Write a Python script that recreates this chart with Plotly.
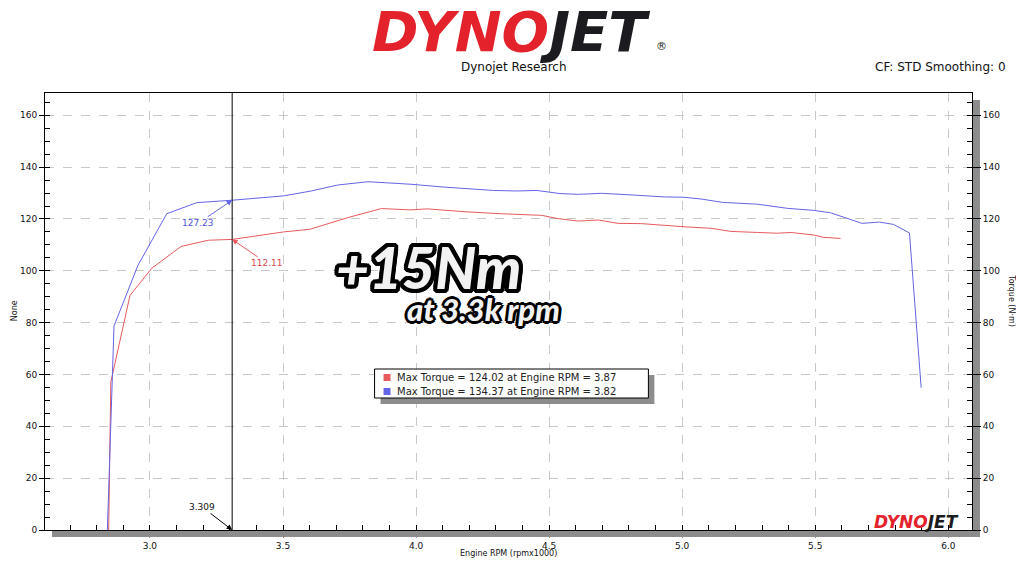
import plotly.graph_objects as go

# ---------------- data ----------------
rpm_blue = [2.840, 2.865, 2.955, 3.063, 3.176, 3.309, 3.502, 3.606, 3.706, 3.820,
            3.980, 4.105, 4.292, 4.379, 4.454, 4.541, 4.610, 4.697, 4.822, 4.934,
            5.003, 5.071, 5.152, 5.283, 5.395, 5.495, 5.557, 5.676, 5.741, 5.794,
            5.854, 5.898]
tq_blue = [0.0, 78.7, 102.1, 122.0, 126.3, 127.23, 128.9, 130.8, 133.1, 134.37,
           133.4, 132.3, 131.0, 130.8, 131.0, 129.8, 129.5, 129.9, 129.2, 128.5,
           128.4, 127.7, 126.4, 125.7, 124.1, 123.3, 122.4, 118.3, 118.8, 117.9,
           114.6, 54.9]

rpm_red = [2.845, 2.853, 2.925, 3.007, 3.117, 3.219, 3.309, 3.502, 3.600, 3.743,
           3.870, 3.980, 4.042, 4.180, 4.323, 4.472, 4.535, 4.610, 4.685, 4.759,
           4.847, 4.946, 5.021, 5.108, 5.183, 5.283, 5.358, 5.408, 5.495, 5.532,
           5.595]
tq_red = [0.0, 57.0, 90.5, 101.0, 109.4, 111.8, 112.11, 115.0, 116.0, 120.5,
          124.02, 123.5, 123.9, 122.8, 122.0, 121.4, 120.1, 119.2, 119.6, 118.3,
          118.2, 117.3, 116.9, 116.4, 115.2, 114.8, 114.5, 114.8, 113.8, 112.9,
          112.5]

cursor_rpm = 3.309
x_ticks = [3.0, 3.5, 4.0, 4.5, 5.0, 5.5, 6.0]
y_ticks = [0, 20, 40, 60, 80, 100, 120, 140, 160]

RED = "#e85a5c"
BLUE = "#6464e6"
RED_TXT = "#d84a4c"
BLUE_TXT = "#5252d6"
SHADOW = "#8c8c8c"
FONT = "DejaVu Sans"

# ---------------- layout geometry (pixels, page coords) ----------------
OFF = 8                      # page body margin of the html page
W, H = 1024 - OFF, 576 - OFF
L, R, T, B = 41, 972, 93, 530
PW, PH = R - L, B - T


def px(x):
    return (x - L) / PW


def py(y):
    return (B - y) / PH


fig = go.Figure()
fig.add_trace(go.Scatter(x=rpm_red, y=tq_red, mode="lines",
                         line=dict(color=RED, width=1), hoverinfo="skip"))
fig.add_trace(go.Scatter(x=rpm_blue, y=tq_blue, mode="lines",
                         line=dict(color=BLUE, width=1), hoverinfo="skip"))
fig.add_trace(go.Scatter(x=[None], y=[None], yaxis="y2", showlegend=False))

# cursor line
fig.add_shape(type="line", xref="x", yref="paper", x0=cursor_rpm, x1=cursor_rpm,
              y0=0, y1=1, line=dict(color="black", width=1))

# drop shadow of plot box
fig.add_shape(type="rect", xref="paper", yref="paper", layer="below",
              x0=px(48), x1=px(980), y0=py(537), y1=py(530),
              line=dict(width=0), fillcolor=SHADOW)
fig.add_shape(type="rect", xref="paper", yref="paper", layer="below",
              x0=px(972), x1=px(980), y0=py(537), y1=py(100),
              line=dict(width=0), fillcolor=SHADOW)

# legend box
fig.add_shape(type="rect", xref="paper", yref="paper",
              x0=px(378), x1=px(653), y0=py(404), y1=py(375),
              line=dict(width=0), fillcolor=SHADOW)
fig.add_shape(type="rect", xref="paper", yref="paper",
              x0=px(372), x1=px(647), y0=py(398), y1=py(369),
              line=dict(width=1, color="black"), fillcolor="white")
fig.add_shape(type="rect", xref="paper", yref="paper",
              x0=px(381), x1=px(388), y0=py(381), y1=py(374),
              line=dict(width=0), fillcolor=RED)
fig.add_shape(type="rect", xref="paper", yref="paper",
              x0=px(381), x1=px(388), y0=py(395), y1=py(388),
              line=dict(width=0), fillcolor=BLUE)

i_r = tq_red.index(max(tq_red))
i_b = tq_blue.index(max(tq_blue))
leg_red = f"Max Torque = {tq_red[i_r]:.2f} at Engine RPM = {rpm_red[i_r]:.2f}"
leg_blue = f"Max Torque = {tq_blue[i_b]:.2f} at Engine RPM = {rpm_blue[i_b]:.2f}"

ann = []
ann.append(dict(xref="paper", yref="paper", x=px(393), y=py(377.5), text=leg_red,
                showarrow=False, xanchor="left", yanchor="middle",
                font=dict(family=FONT, size=10, color="#222")))
ann.append(dict(xref="paper", yref="paper", x=px(393), y=py(391.5), text=leg_blue,
                showarrow=False, xanchor="left", yanchor="middle",
                font=dict(family=FONT, size=10, color="#222")))

# cursor value annotations
blue_at = tq_blue[rpm_blue.index(cursor_rpm)]
red_at = tq_red[rpm_red.index(cursor_rpm)]
ann.append(dict(x=cursor_rpm, y=blue_at, xref="x", yref="y", text=f"{blue_at:.2f}",
                showarrow=True, arrowhead=2, arrowsize=1.1, arrowwidth=1,
                arrowcolor=BLUE, ax=-34, ay=23,
                font=dict(family=FONT, size=9, color=BLUE_TXT)))
ann.append(dict(x=cursor_rpm, y=red_at, xref="x", yref="y", text=f"{red_at:.2f}",
                showarrow=True, arrowhead=2, arrowsize=1.1, arrowwidth=1,
                arrowcolor=RED, ax=35, ay=24,
                font=dict(family=FONT, size=9, color=RED_TXT)))
ann.append(dict(x=cursor_rpm, y=0, xref="x", yref="y", text=f"{cursor_rpm:.3f}",
                showarrow=True, arrowhead=2, arrowsize=1.1, arrowwidth=1,
                arrowcolor="black", ax=-30, ay=-23,
                font=dict(family=FONT, size=9, color="#111")))

# header
logo_top = ("<span style='color:#e3222b'>DYNO</span>"
            "<span style='color:#1c1c20'>JET</span>")
ann.append(dict(xref="paper", yref="paper", x=px(509), y=py(32), text=logo_top,
                showarrow=False, xanchor="center", yanchor="middle",
                font=dict(family=FONT, size=56, weight=900, style="italic")))
ann.append(dict(xref="paper", yref="paper", x=px(660), y=py(47), text="®",
                showarrow=False, xanchor="center", yanchor="middle",
                font=dict(family=FONT, size=11, color="#1c1c20")))
ann.append(dict(xref="paper", yref="paper", x=px(512), y=py(67), text="Dynojet Research",
                showarrow=False, xanchor="center", yanchor="middle",
                font=dict(family=FONT, size=12, color="#111")))
ann.append(dict(xref="paper", yref="paper", x=px(1008), y=py(67),
                text="CF: STD Smoothing: 0",
                showarrow=False, xanchor="right", yanchor="middle",
                font=dict(family=FONT, size=12, color="#111")))

# axis titles
ann.append(dict(xref="paper", yref="paper", x=px(507), y=py(553),
                text="Engine RPM (rpmx1000)", showarrow=False,
                xanchor="center", yanchor="middle",
                font=dict(family=FONT, size=8, color="#111")))
ann.append(dict(xref="paper", yref="paper", x=px(10), y=py(311), text="None",
                showarrow=False, textangle=-90, xanchor="center", yanchor="middle",
                font=dict(family=FONT, size=8, color="#111")))
ann.append(dict(xref="paper", yref="paper", x=px(1012), y=py(301), text="Torque (N·m)",
                showarrow=False, textangle=90, xanchor="center", yanchor="middle",
                font=dict(family=FONT, size=8, color="#111")))

# big overlay text
outline = ", ".join(f"{dx}px {dy}px 0 #000" for dx, dy in
                    [(4, 0), (-4, 0), (0, 4), (0, -4), (3, 3), (-3, -3), (3, -3), (-3, 3),
                     (4, 2), (-4, 2), (4, -2), (-4, -2), (2, 4), (-2, 4), (2, -4), (-2, -4)])
ann.append(dict(xref="paper", yref="paper", x=px(426), y=py(267), text="+15Nm",
                showarrow=False, xanchor="center", yanchor="middle",
                font=dict(family="Lato", size=57, weight=900, style="italic",
                          color="#f2f2f2", shadow=outline)))
outline2 = ", ".join(f"{dx}px {dy}px 0 #000" for dx, dy in
                     [(3, 0), (-3, 0), (0, 3), (0, -3), (2, 2), (-2, -2), (2, -2), (-2, 2)])
ann.append(dict(xref="paper", yref="paper", x=px(481), y=py(309), text="at 3.3k rpm",
                showarrow=False, xanchor="center", yanchor="middle",
                font=dict(family="Lato", size=31, weight=900, style="italic",
                          color="#f2f2f2", shadow=outline2)))

# small logo bottom-right
ann.append(dict(xref="paper", yref="paper", x=px(916), y=py(522),
                text="<span style='color:#e3222b'>DYNO</span><span style='color:#1c1c20'>JET</span>",
                showarrow=False, xanchor="center", yanchor="middle",
                font=dict(family=FONT, size=17, weight=900, style="italic")))

axis_common = dict(showline=True, linecolor="black", linewidth=1, zeroline=False,
                   tickfont=dict(family=FONT, size=9, color="#111"))

fig.update_layout(
    width=W, height=H,
    margin=dict(l=L - OFF, r=W - (R - OFF), t=T - OFF, b=H - (B - OFF)),
    paper_bgcolor="white", plot_bgcolor="white",
    showlegend=False,
    annotations=ann,
    xaxis=dict(range=[2.6057, 6.089], tickvals=x_ticks,
               ticktext=[f"{v:.1f}" for v in x_ticks],
               ticks="outside", ticklen=7, tickcolor=SHADOW,
               showgrid=True, gridcolor="#c8c8c8", griddash="dash", gridwidth=1,
               mirror=True,
               minor=dict(ticks="inside", ticklen=5, dtick=0.1, tick0=0,
                          tickcolor="black", showgrid=False),
               **axis_common),
    yaxis=dict(range=[0, 168.6], tickvals=y_ticks, ticks="outside", ticklen=5,
               tickcolor="black", showgrid=True, gridcolor="#c8c8c8", griddash="dash",
               minor=dict(ticks="inside", ticklen=5, dtick=5, tick0=0,
                          tickcolor="black", showgrid=False),
               **axis_common),
    yaxis2=dict(range=[0, 168.6], tickvals=y_ticks, overlaying="y", side="right",
                ticks="outside", ticklen=8, tickcolor="black", showgrid=False,
                minor=dict(ticks="inside", ticklen=5, dtick=5, tick0=0,
                           tickcolor="black", showgrid=False),
                **axis_common),
)

fig.write_html("out.html")
